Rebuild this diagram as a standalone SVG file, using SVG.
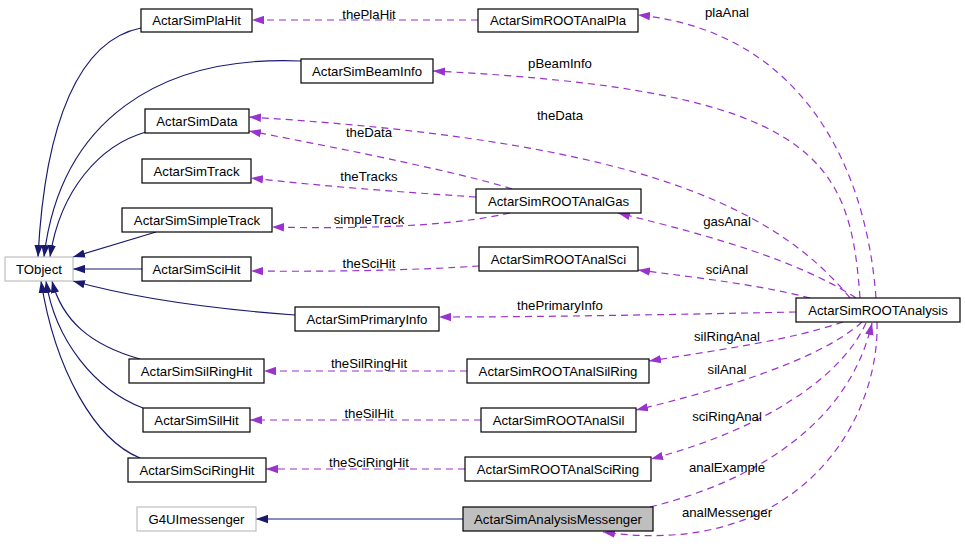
<svg xmlns="http://www.w3.org/2000/svg" width="965" height="547" viewBox="0 0 965 547">
<style>
  .node rect { fill: #ffffff; stroke: #000000; stroke-width: 1.2; }
  .node.gray rect { stroke: #bfbfbf; }
  .node.sel rect { fill: #bfbfbf; }
  text { font-family: "Liberation Sans", Arial, Helvetica, sans-serif; font-size: 13.2px; fill: #000000; text-anchor: middle; }
  .inh { fill: none; stroke: #191970; stroke-width: 1.2; marker-end: url(#blueArrow); }
  .use { fill: none; stroke: #9a32cd; stroke-width: 1.2; stroke-dasharray: 7,5; marker-end: url(#purpleArrow); }
</style>
<defs>
  <marker id="blueArrow" viewBox="0 0 10 7" refX="10" refY="3.5" markerUnits="userSpaceOnUse" markerWidth="12" markerHeight="9" orient="auto">
    <path d="M0,0 L10,3.5 L0,7 z" fill="#191970" stroke="none"/>
  </marker>
  <marker id="purpleArrow" viewBox="0 0 10 7" refX="10" refY="3.5" markerUnits="userSpaceOnUse" markerWidth="12" markerHeight="9" orient="auto">
    <path d="M0,0 L10,3.5 L0,7 z" fill="#9a32cd" stroke="none"/>
  </marker>
</defs>
<rect width="965" height="547" fill="#ffffff"/>
<g id="edges">
  <!-- inheritance -->
  <path class="inh" d="M141,28 C80,40 45,120 38,257"/>
  <path class="inh" d="M301,61 C160,55 60,120 44,257"/>
  <path class="inh" d="M146,132 C100,145 60,190 50,257"/>
  <path class="inh" d="M156,232 L73,257"/>
  <path class="inh" d="M142,269 L73,269"/>
  <path class="inh" d="M295,315 C200,308 130,297 73,281"/>
  <path class="inh" d="M140,359 C90,345 62,320 52,281"/>
  <path class="inh" d="M143,408 C95,390 55,340 46,281"/>
  <path class="inh" d="M140,458 C95,440 55,370 41,281"/>
  <path class="inh" d="M463,519 L256,519"/>
  <!-- usage -->
  <path class="use" d="M478,20 L252,20"/>
  <text x="369" y="19">thePlaHit</text>
  <path class="use" d="M876,298 C865,150 790,30 638,15"/>
  <text x="727" y="17">plaAnal</text>
  <path class="use" d="M860,298 C850,160 820,90 433,71"/>
  <text x="560" y="68">pBeamInfo</text>
  <path class="use" d="M850,298 C770,200 620,140 249,117"/>
  <text x="560" y="120">theData</text>
  <path class="use" d="M512,189 C470,175 350,150 249,131"/>
  <text x="369" y="137">theData</text>
  <path class="use" d="M476,197 C400,192 320,186 251,178"/>
  <text x="369" y="181">theTracks</text>
  <path class="use" d="M510,213 C470,222 400,230 272,227"/>
  <text x="369" y="224">simpleTrack</text>
  <path class="use" d="M856,298 C800,262 720,238 618,213"/>
  <text x="727" y="226">gasAnal</text>
  <path class="use" d="M810,298 C760,285 700,278 638,270"/>
  <text x="727" y="274">sciAnal</text>
  <path class="use" d="M479,266 C420,270 330,272 251,271"/>
  <text x="369" y="268">theSciHit</text>
  <path class="use" d="M796,312 C700,314 550,317 439,317"/>
  <text x="560" y="310">thePrimaryInfo</text>
  <path class="use" d="M843,322 C790,340 720,350 649,361"/>
  <text x="727" y="341">silRingAnal</text>
  <path class="use" d="M467,371 L264,371"/>
  <text x="369" y="368">theSilRingHit</text>
  <path class="use" d="M862,322 C820,360 720,390 636,410"/>
  <text x="727" y="374">silAnal</text>
  <path class="use" d="M481,420 L250,420"/>
  <text x="369" y="418">theSilHit</text>
  <path class="use" d="M866,323 C840,380 760,430 651,459"/>
  <text x="727" y="421">sciRingAnal</text>
  <path class="use" d="M465,469 L266,469"/>
  <text x="369" y="467">theSciRingHit</text>
  <path class="use" d="M650,507 C760,480 850,420 872,323"/>
  <text x="727" y="472">analExample</text>
  <path class="use" d="M877,322 C880,420 800,560 603,532"/>
  <text x="727" y="517">analMessenger</text>
</g>
<g id="ActarSimPlaHit" class="node"><rect x="141" y="9" width="111" height="23"/><text x="196.5" y="25">ActarSimPlaHit</text></g>
<g id="ActarSimROOTAnalPla" class="node"><rect x="478" y="9" width="160" height="23"/><text x="558" y="25">ActarSimROOTAnalPla</text></g>
<g id="ActarSimBeamInfo" class="node"><rect x="301" y="59" width="132" height="24"/><text x="367" y="75.5">ActarSimBeamInfo</text></g>
<g id="ActarSimData" class="node"><rect x="145" y="109" width="104" height="24"/><text x="197" y="125.5">ActarSimData</text></g>
<g id="ActarSimTrack" class="node"><rect x="142" y="159" width="109" height="24"/><text x="196.5" y="175.5">ActarSimTrack</text></g>
<g id="ActarSimSimpleTrack" class="node"><rect x="122" y="208" width="150" height="24"/><text x="197" y="224.5">ActarSimSimpleTrack</text></g>
<g id="TObject" class="node gray"><rect x="5" y="257" width="68" height="24"/><text x="39" y="273.5">TObject</text></g>
<g id="ActarSimSciHit" class="node"><rect x="142" y="257" width="109" height="24"/><text x="196.5" y="273.5">ActarSimSciHit</text></g>
<g id="ActarSimROOTAnalGas" class="node"><rect x="476" y="189" width="165" height="24"/><text x="558.5" y="205.5">ActarSimROOTAnalGas</text></g>
<g id="ActarSimROOTAnalSci" class="node"><rect x="479" y="247" width="159" height="24"/><text x="558.5" y="263.5">ActarSimROOTAnalSci</text></g>
<g id="ActarSimPrimaryInfo" class="node"><rect x="295" y="307" width="144" height="24"/><text x="367" y="323.5">ActarSimPrimaryInfo</text></g>
<g id="ActarSimROOTAnalysis" class="node"><rect x="796" y="298" width="164" height="24"/><text x="878" y="314.5">ActarSimROOTAnalysis</text></g>
<g id="ActarSimSilRingHit" class="node"><rect x="129" y="359" width="135" height="24"/><text x="196.5" y="375.5">ActarSimSilRingHit</text></g>
<g id="ActarSimROOTAnalSilRing" class="node"><rect x="467" y="359" width="182" height="24"/><text x="558" y="375.5">ActarSimROOTAnalSilRing</text></g>
<g id="ActarSimSilHit" class="node"><rect x="143" y="408" width="107" height="24"/><text x="196.5" y="424.5">ActarSimSilHit</text></g>
<g id="ActarSimROOTAnalSil" class="node"><rect x="481" y="408" width="155" height="24"/><text x="558.5" y="424.5">ActarSimROOTAnalSil</text></g>
<g id="ActarSimSciRingHit" class="node"><rect x="128" y="458" width="138" height="24"/><text x="197" y="474.5">ActarSimSciRingHit</text></g>
<g id="ActarSimROOTAnalSciRing" class="node"><rect x="465" y="457" width="186" height="24"/><text x="558" y="473.5">ActarSimROOTAnalSciRing</text></g>
<g id="G4UImessenger" class="node gray"><rect x="137" y="507" width="119" height="24"/><text x="196.5" y="523.5">G4UImessenger</text></g>
<g id="ActarSimAnalysisMessenger" class="node sel"><rect x="463" y="507" width="190" height="24"/><text x="558" y="523.5">ActarSimAnalysisMessenger</text></g>
</svg>
